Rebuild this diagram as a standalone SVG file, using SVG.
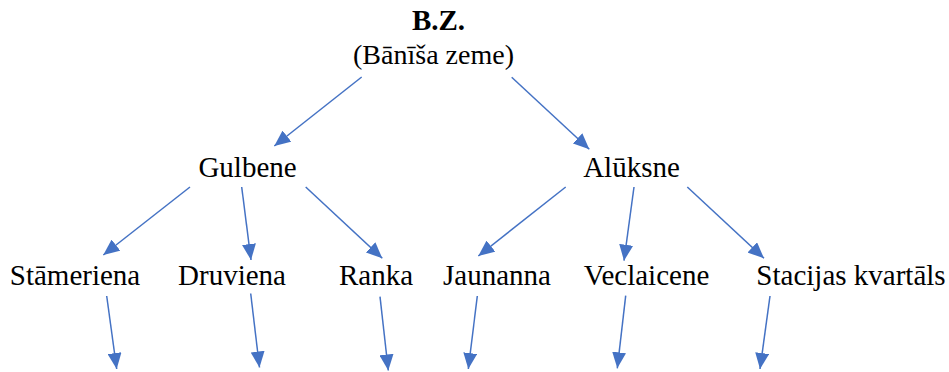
<svg xmlns="http://www.w3.org/2000/svg" width="949" height="372" viewBox="0 0 949 372">
<style>
.c{stroke:#4472C4;stroke-width:1.5;fill:none}
</style>
<defs>
<marker id="ah" viewBox="0 0 16 14" refX="16" refY="7" markerWidth="16" markerHeight="14" markerUnits="userSpaceOnUse" orient="auto">
<path d="M0,0 L16,7 L0,14 z" fill="#4472C4"/>
</marker>
</defs>
<rect width="949" height="372" fill="#fff"/>
<g id="nodes" font-size="29" fill="#000" text-anchor="middle">
<g id="bz"><text font-family="'Liberation Serif', serif" font-weight="bold" x="438.5" y="30">B.Z.</text><text font-family="'Liberation Serif', serif" font-size="28" x="433.5" y="64">(Bānīša zeme)</text></g>
<g id="gulbene"><text font-family="'Liberation Serif', serif" x="247.5" y="177">Gulbene</text></g>
<g id="aluksne"><text font-family="'Liberation Serif', serif" x="631.5" y="177">Alūksne</text></g>
<g id="stameriena"><text font-family="'Liberation Serif', serif" x="75" y="285">Stāmeriena</text></g>
<g id="druviena"><text font-family="'Liberation Serif', serif" x="232" y="285">Druviena</text></g>
<g id="ranka"><text font-family="'Liberation Serif', serif" x="376" y="285">Ranka</text></g>
<g id="jaunanna"><text font-family="'Liberation Serif', serif" x="497" y="285">Jaunanna</text></g>
<g id="veclaicene"><text font-family="'Liberation Serif', serif" x="646.5" y="285">Veclaicene</text></g>
<g id="stacijas"><text font-family="'Liberation Serif', serif" x="851" y="285">Stacijas kvartāls</text></g>
</g>
<g id="connectors" class="c" marker-end="url(#ah)">
<line x1="361.7" y1="77" x2="274.3" y2="146"/>
<line x1="511.7" y1="77.3" x2="589.3" y2="149.3"/>
<line x1="190" y1="187" x2="103.3" y2="255"/>
<line x1="241.7" y1="187" x2="251" y2="260"/>
<line x1="305.7" y1="187" x2="382.3" y2="258.3"/>
<line x1="565.7" y1="187" x2="478.3" y2="256"/>
<line x1="634" y1="187" x2="624" y2="260.7"/>
<line x1="687.3" y1="187" x2="764" y2="258.3"/>
<line x1="106.7" y1="296" x2="116.7" y2="369"/>
<line x1="250.7" y1="293.5" x2="259.5" y2="367.5"/>
<line x1="380" y1="296.7" x2="388.3" y2="370.5"/>
<line x1="477.3" y1="296" x2="468.3" y2="369"/>
<line x1="625.7" y1="295.7" x2="617.3" y2="368.3"/>
<line x1="770" y1="296" x2="760" y2="369"/>
</g>
</svg>
